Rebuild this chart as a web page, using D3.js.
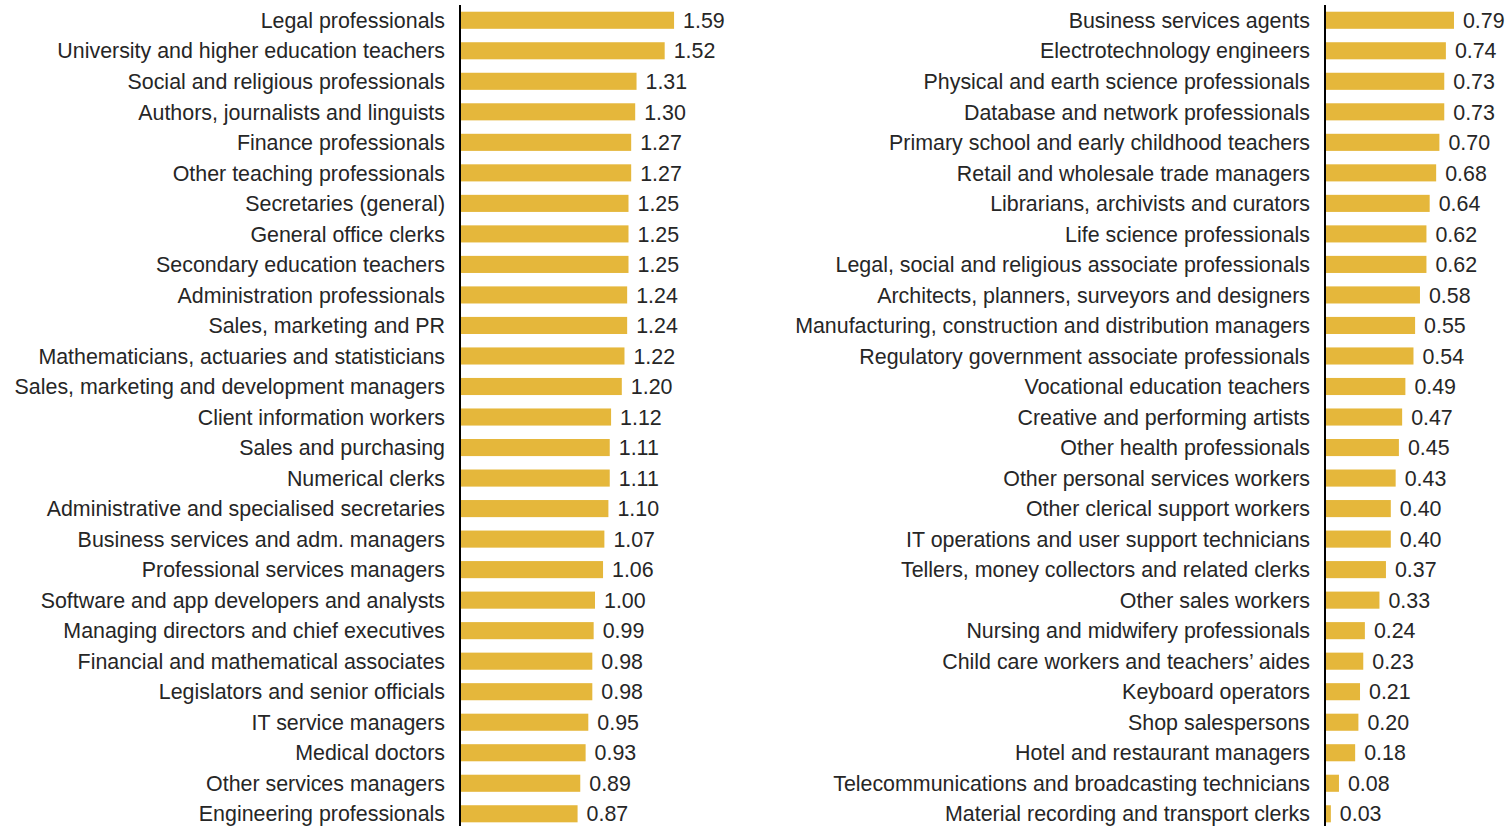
<!DOCTYPE html>
<html>
<head>
<meta charset="utf-8">
<script src="https://cdn.jsdelivr.net/npm/d3@7"></script>
<style>
  html, body { margin: 0; padding: 0; background: #fff; }
  svg text { font-family: "Liberation Sans", Arial, sans-serif; fill: #262626; }
</style>
</head>
<body>
<svg id="chart" width="1506" height="826"></svg>
<script>
// Left panel: occupations with the highest values
const leftCategories = [
  "Legal professionals",
  "University and higher education teachers",
  "Social and religious professionals",
  "Authors, journalists and linguists",
  "Finance professionals",
  "Other teaching professionals",
  "Secretaries (general)",
  "General office clerks",
  "Secondary education teachers",
  "Administration professionals",
  "Sales, marketing and PR",
  "Mathematicians, actuaries and statisticians",
  "Sales, marketing and development managers",
  "Client information workers",
  "Sales and purchasing",
  "Numerical clerks",
  "Administrative and specialised secretaries",
  "Business services and adm. managers",
  "Professional services managers",
  "Software and app developers and analysts",
  "Managing directors and chief executives",
  "Financial and mathematical associates",
  "Legislators and senior officials",
  "IT service managers",
  "Medical doctors",
  "Other services managers",
  "Engineering professionals"
];
const leftValues = [1.59, 1.52, 1.31, 1.30, 1.27, 1.27, 1.25, 1.25, 1.25, 1.24, 1.24, 1.22, 1.20,
  1.12, 1.11, 1.11, 1.10, 1.07, 1.06, 1.00, 0.99, 0.98, 0.98, 0.95, 0.93, 0.89, 0.87];

// Right panel: remaining occupations
const rightCategories = [
  "Business services agents",
  "Electrotechnology engineers",
  "Physical and earth science professionals",
  "Database and network professionals",
  "Primary school and early childhood teachers",
  "Retail and wholesale trade managers",
  "Librarians, archivists and curators",
  "Life science professionals",
  "Legal, social and religious associate professionals",
  "Architects, planners, surveyors and designers",
  "Manufacturing, construction and distribution managers",
  "Regulatory government associate professionals",
  "Vocational education teachers",
  "Creative and performing artists",
  "Other health professionals",
  "Other personal services workers",
  "Other clerical support workers",
  "IT operations and user support technicians",
  "Tellers, money collectors and related clerks",
  "Other sales workers",
  "Nursing and midwifery professionals",
  "Child care workers and teachers\u2019 aides",
  "Keyboard operators",
  "Shop salespersons",
  "Hotel and restaurant managers",
  "Telecommunications and broadcasting technicians",
  "Material recording and transport clerks"
];
const rightValues = [0.79, 0.74, 0.73, 0.73, 0.70, 0.68, 0.64, 0.62, 0.62, 0.58, 0.55, 0.54, 0.49,
  0.47, 0.45, 0.43, 0.40, 0.40, 0.37, 0.33, 0.24, 0.23, 0.21, 0.20, 0.18, 0.08, 0.03];

const svg = d3.select("#chart");
const barColor = "#E5B73B";
const fontSize = 21.4;

function panel(categories, values, axisX, pxPerUnit) {
  const g = svg.append("g");
  const y = d3.scaleBand()
    .domain(categories)
    .range([5, 5 + categories.length * 30.52])
    .paddingInner(0.44)
    .paddingOuter(0.22);
  const x = d3.scaleLinear()
    .domain([0, 1])
    .range([axisX + 1, axisX + 1 + pxPerUnit]);

  g.selectAll("rect.bar")
    .data(values)
    .join("rect")
    .attr("class", "bar")
    .attr("x", x(0))
    .attr("y", (d, i) => y(categories[i]))
    .attr("width", d => x(d) - x(0))
    .attr("height", y.bandwidth())
    .attr("fill", barColor);

  g.selectAll("text.val")
    .data(values)
    .join("text")
    .attr("class", "val")
    .attr("x", d => x(d) + 9)
    .attr("y", (d, i) => y(categories[i]) + y.bandwidth() / 2)
    .attr("dy", "0.36em")
    .attr("font-size", fontSize)
    .text(d => d.toFixed(2));

  const axis = d3.axisLeft(y).tickSize(0).tickPadding(15);
  const ag = g.append("g")
    .attr("transform", `translate(${axisX},0)`)
    .call(axis);
  ag.select(".domain").attr("stroke", "#000").attr("stroke-width", 2).attr("d", `M0,5V830`);
  ag.selectAll("text")
    .attr("font-size", fontSize)
    .attr("dy", "0.36em")
    .attr("font-family", "\"Liberation Sans\", Arial, sans-serif")
    .attr("fill", "#262626");
}

panel(leftCategories, leftValues, 460, 134);
panel(rightCategories, rightValues, 1325, 162);
</script>
</body>
</html>
